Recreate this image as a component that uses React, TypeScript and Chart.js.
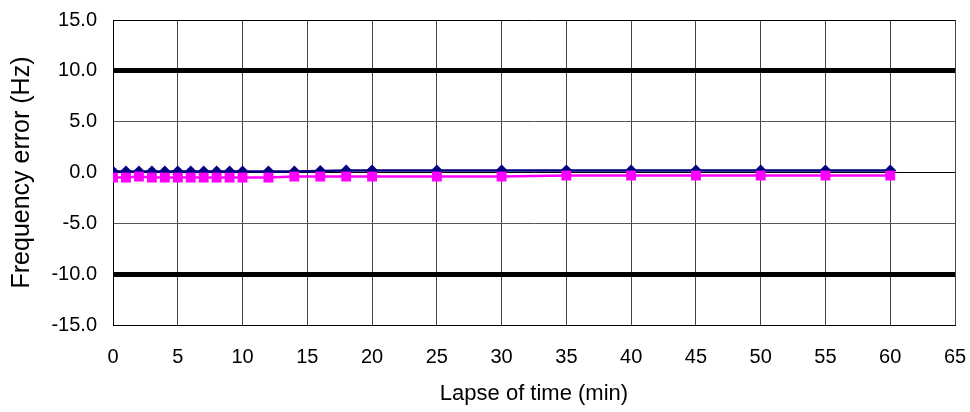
import React, { useEffect, useRef } from "react";
import { Chart, registerables } from "chart.js";

Chart.register(...registerables);

const timeMin = [0, 1, 2, 3, 4, 5, 6, 7, 8, 9, 10, 12, 14, 16, 18, 20, 25, 30, 35, 40, 45, 50, 55, 60];
const seriesBlue = [0.1, 0.1, 0.1, 0.1, 0.1, 0.1, 0.1, 0.1, 0.1, 0.1, 0.1, 0.1, 0.1, 0.15, 0.2, 0.2, 0.2, 0.2, 0.2, 0.2, 0.2, 0.2, 0.2, 0.2];
const seriesPink = [-0.5, -0.5, -0.4, -0.5, -0.5, -0.5, -0.5, -0.5, -0.5, -0.5, -0.5, -0.5, -0.4, -0.4, -0.4, -0.4, -0.4, -0.4, -0.3, -0.3, -0.3, -0.3, -0.3, -0.3];
const xTicks = { min: 0, max: 65, step: 5 };
const yTicks = { min: -15, max: 15, step: 5 };
const limitLines = [10, -10];
const xTitle = "Lapse of time (min)";
const yTitle = "Frequency error (Hz)";

export default function App() {
  const ref = useRef<HTMLCanvasElement>(null);
  useEffect(() => {
    if (!ref.current) return;
    const font = "'Liberation Sans', Arial, sans-serif";
    const chart = new Chart(ref.current, {
      type: "line",
      data: {
        datasets: [
          {
            label: "A",
            data: timeMin.map((x, i) => ({ x, y: seriesBlue[i] })),
            borderColor: "#000080",
            backgroundColor: "#000080",
            borderWidth: 2.5,
            pointStyle: "rectRot",
            pointRadius: 6,
            pointBorderWidth: 0,
            order: 2,
          },
          {
            label: "B",
            data: timeMin.map((x, i) => ({ x, y: seriesPink[i] })),
            borderColor: "#FF00FF",
            backgroundColor: "#FF00FF",
            borderWidth: 2.5,
            pointStyle: "rect",
            pointRadius: 7,
            pointBorderWidth: 0,
            order: 1,
          },
        ],
      },
      options: {
        animation: false,
        responsive: false,
        maintainAspectRatio: false,
        layout: { padding: { top: 20, right: 15, left: 0, bottom: 0 } },
        plugins: { legend: { display: false }, tooltip: { enabled: false } },
        scales: {
          x: {
            type: "linear",
            min: xTicks.min,
            max: xTicks.max,
            afterFit: (s: any) => {
              s.height = 87;
              s.paddingLeft = 0;
              s.paddingRight = 0;
            },
            ticks: {
              stepSize: xTicks.step,
              padding: 20,
              color: "#000",
              font: { family: font, size: 20 },
              maxRotation: 0,
              autoSkip: false,
            },
            grid: { color: "#444", lineWidth: 1, drawTicks: false },
            border: { display: true, color: "#000", width: 1 },
            title: {
              display: true,
              text: xTitle,
              color: "#000",
              font: { family: font, size: 22 },
              padding: { top: 0, bottom: 5 },
            },
          },
          y: {
            type: "linear",
            min: yTicks.min,
            max: yTicks.max,
            afterFit: (s: any) => {
              s.width = 113;
              s.paddingTop = 0;
              s.paddingBottom = 0;
            },
            ticks: {
              stepSize: yTicks.step,
              padding: 16,
              color: "#000",
              font: { family: font, size: 20 },
              callback: (v: any) => Number(v).toFixed(1),
            },
            grid: {
              drawTicks: false,
              color: (ctx: any) => {
                const v = ctx.tick?.value;
                if (limitLines.includes(v) || v === 0 || v === 15 || v === -15) return "#000";
                return "#555";
              },
              lineWidth: (ctx: any) => (limitLines.includes(ctx.tick?.value) ? 5 : 1),
            },
            border: { display: true, color: "#000", width: 1 },
            title: {
              display: true,
              text: yTitle,
              color: "#000",
              font: { family: font, size: 25 },
              padding: { top: 7, bottom: 0 },
            },
          },
        },
      },
    });
    return () => chart.destroy();
  }, []);
  return (
    <div style={{ position: "fixed", left: 0, top: 0, width: 970, height: 412, background: "#fff" }}>
      <canvas ref={ref} width={970} height={412} style={{ width: 970, height: 412 }} />
    </div>
  );
}
